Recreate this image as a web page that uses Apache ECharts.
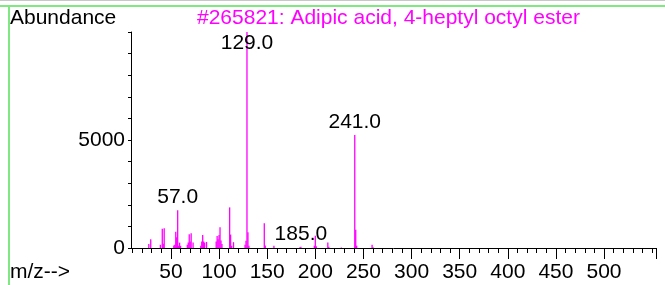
<!DOCTYPE html>
<html>
<head>
<meta charset="utf-8">
<script src="https://cdn.jsdelivr.net/npm/echarts@6/dist/echarts.min.js"></script>
<style>
  html, body { margin: 0; padding: 0; background: #fff; }
  #chart { width: 665px; height: 285px; }
</style>
</head>
<body>
<div id="chart"></div>
<script>
// mass spectrum peaks: m/z and abundance
const mzValues = [27, 29, 39, 41, 42, 43, 53, 54, 55, 56, 57, 58, 59, 60,
  67, 68, 69, 70, 71, 73, 81, 82, 83, 84, 85, 87,
  97, 98, 99, 100, 101, 102, 103, 111, 112, 113, 115,
  127, 128, 129, 130, 131, 147, 148, 157, 184, 185,
  199, 200, 201, 213, 214, 227, 241, 242, 243, 259, 260];
const abundances = [190, 400, 150, 890, 200, 920, 120, 150, 750, 500, 1750, 100, 250, 100,
  150, 250, 640, 300, 680, 250, 100, 300, 600, 300, 250, 280,
  300, 550, 400, 600, 960, 350, 180, 1880, 620, 100, 270,
  150, 340, 10000, 730, 100, 1150, 120, 100, 40, 60,
  100, 570, 80, 250, 60, 20, 5230, 840, 100, 150, 30];

// labelled peaks
const labelMz = [129, 241, 57, 185];
const labelAbund = [10000, 5230, 1750, 60];

const minorTicks = [];
for (let v = 10; v <= 550; v += 10) minorTicks.push(v);
const majorTicks = [50, 100, 150, 200, 250, 300, 350, 400, 450, 500];
const yLabels = [0, 5000];

const font = 'Liberation Sans, Arial, sans-serif';
const textColor = '#000';
const fs = 21;

let dom = echarts.init(document.getElementById('chart'));

const xBase = {
  type: 'value',
  min: 8.5,
  max: 554,
  position: 'bottom',
  splitLine: { show: false }
};

dom.setOption({
  animation: false,
  grid: { left: 131, right: 9, top: 32, bottom: 37 },
  graphic: [
    { type: 'rect', shape: { x: 0, y: 0, width: 665, height: 1 }, style: { fill: '#c8c8c8' } },
    { type: 'rect', shape: { x: 0, y: 5, width: 665, height: 2 }, style: { fill: '#80e880' } },
    { type: 'rect', shape: { x: 8, y: 5, width: 2, height: 280 }, style: { fill: '#80e880' } },
    { type: 'text', left: 10, top: 8, style: { text: 'Abundance', font: fs + 'px ' + font, fill: textColor } },
    { type: 'text', left: 197, top: 8, style: { text: '#265821: Adipic acid, 4-heptyl octyl ester', font: fs + 'px ' + font, fill: '#ff00ff' } },
    { type: 'text', left: 10, top: 262, style: { text: 'm/z-->', font: fs + 'px ' + font, fill: textColor } }
  ],
  xAxis: [
    Object.assign({}, xBase, {
      axisLine: { show: true, lineStyle: { color: '#000', width: 1 } },
      axisTick: { show: true, customValues: minorTicks, length: 5, lineStyle: { color: '#000' } },
      axisLabel: { show: false }
    }),
    Object.assign({}, xBase, {
      axisLine: { show: false },
      axisTick: { show: true, customValues: majorTicks.concat([554]), length: 11, lineStyle: { color: '#000' } },
      axisLabel: {
        show: true, customValues: majorTicks, margin: 14,
        fontSize: fs, fontFamily: font, color: textColor
      }
    })
  ],
  yAxis: {
    type: 'value',
    min: 0,
    max: 10000,
    interval: 1000,
    splitLine: { show: false },
    axisLine: { show: true, lineStyle: { color: '#000' } },
    axisTick: { show: true, length: 3, lineStyle: { color: '#000' } },
    axisLabel: {
      customValues: yLabels, margin: 6,
      fontSize: fs, fontFamily: font, color: textColor,
      formatter: v => String(v)
    }
  },
  series: [
    {
      type: 'bar',
      barWidth: 1.3,
      itemStyle: { color: '#ff00ff' },
      data: mzValues.map((m, i) => [m, abundances[i]])
    },
    {
      type: 'scatter',
      symbolSize: 0,
      itemStyle: { opacity: 1 },
      label: {
        show: true,
        position: 'top',
        distance: 2,
        fontSize: fs,
        fontFamily: font,
        color: textColor,
        opacity: 1,
        textBorderWidth: 0,
        formatter: p => p.value[0].toFixed(1)
      },
      data: labelMz.map((m, i) => {
        let item = { value: [m, labelAbund[i]] };
        if (m === 129) item.label = { position: 'bottom', distance: 1 };
        return item;
      })
    }
  ]
});
dom.resize();
</script>
</body>
</html>
